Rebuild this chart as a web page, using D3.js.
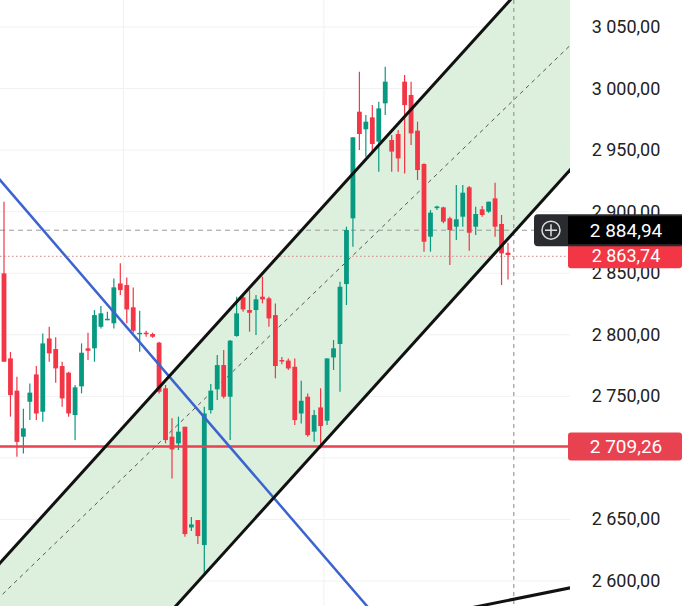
<!DOCTYPE html>
<html><head><meta charset="utf-8">
<script src="https://cdn.jsdelivr.net/npm/d3@7"></script>
<style>body{margin:0;background:#fff}svg{display:block}</style></head>
<body><svg id="c" width="682" height="606"></svg>
<script>
// OHLC candles
const opens  = [2849.9,2780.8,2754.6,2717.2,2745.6,2767.8,2737.5,2797,2788.4,2774.6,2769.2,2734.8,2758.1,2789,2789,2806.5,2811.9,2809.3,2841.7,2840.4,2822.3,2801.1,2801.7,2800.6,2793.6,2756.5,2717.2,2711.8,2725.3,2643.5,2649.5,2629.2,2738.8,2755.7,2775.4,2749.7,2799,2830.4,2820.1,2820.1,2830.9,2829.6,2816,2779.5,2779,2774,2736.1,2749.7,2721.3,2741,2730.2,2781.6,2792.5,2841.2,2894.6,2981.2,2966.9,2976.6,2956.9,2988,2958.2,2963.1,3005.6,2994.8,2965.8,2938.7,2879.7,2902.9,2903.5,2894.6,2887.8,2895.9,2919.8,2887.8,2901.9,2900,2910.8,2890,2866.7];
const highs  = [2908,2786,2766,2740,2760.5,2774.6,2801,2806.5,2797.9,2778.1,2770,2759.2,2793,2801.7,2820.1,2823.3,2818.7,2845.8,2858,2846.6,2838.5,2819.5,2803.3,2801.7,2794.4,2759.2,2732.1,2733.5,2725.3,2652,2649.5,2741.5,2760,2783.5,2787.6,2795.7,2830.9,2832.3,2836.3,2832.3,2847.2,2830.9,2825.5,2782,2780.8,2780.8,2762.7,2752.4,2738.8,2756.5,2780.8,2795.7,2843.1,2887.8,2960.4,3013.7,2978.5,2986.6,2989.3,3017.8,2962.3,2966.3,3011,3005.6,2973.1,2939.3,2901.3,2904.8,2904,2895.9,2921.6,2921.6,2920.8,2904,2904.6,2908.1,2923.5,2897.3,2874.8];
const lows   = [2778,2733.5,2701,2703.6,2730.7,2730.7,2729.4,2778.1,2761,2741.6,2733.5,2714.5,2752.4,2779.5,2778.1,2805.2,2811.9,2805.2,2832.3,2809.3,2801.7,2786.2,2798.4,2797.5,2752.4,2711.8,2683.3,2706.4,2636,2640.7,2630,2604,2736.1,2747,2748.3,2714.5,2798.4,2818.7,2802.5,2799.8,2825.5,2806.5,2764.6,2776,2771.4,2726.7,2728,2717.2,2713.1,2707.7,2726.7,2771.4,2753.8,2824.2,2871.6,2950.1,2944.7,2947.4,2932.5,2978.5,2932.5,2932.5,2931.1,2954.2,2925.7,2867.5,2867.5,2901.3,2890.5,2856.7,2877,2887.8,2868.3,2881,2895.9,2899.2,2879.7,2840.4,2845];
const closes = [2778.1,2751,2713,2724,2753,2736.1,2793,2784.9,2772.7,2748.3,2736.1,2757.3,2785.4,2787,2816,2817.4,2813,2838.5,2836.3,2820.6,2803.3,2801.6,2800.6,2798.4,2753.7,2714.5,2706.9,2721.3,2638.1,2646,2636.5,2736.1,2754.6,2775.4,2749.7,2795.2,2817.4,2820.6,2817.9,2828.8,2828.8,2813.3,2774.6,2779,2772.7,2730.7,2746.4,2718.5,2734.8,2725.9,2780.8,2789,2839,2885.1,2960.4,2963.1,2973.1,2955,2983.9,3005.6,2948.8,2943.3,2986.6,2963.6,2933.8,2875.6,2899.2,2904.2,2891.9,2885.1,2893.8,2915.4,2882.9,2898.1,2897.3,2908.1,2887.8,2866.1,2864.8];
const yTicks = [2600,2650,2750,2800,2850,2900,2950,3000,3050];
const tickLabels = ["2 600,00","2 650,00","2 750,00","2 800,00","2 850,00","2 900,00","2 950,00","3 000,00","3 050,00"];
// drawn lines as [index, price] pairs
const upperLine = [[-0.62,2614.6],[87.6,3125.5]];
const lowerLine = [[26.6,2579.7],[87.6,2933.8]];
const midLine   = [[-5,2565],[87.6,3035]];
const blueLine  = [[-0.62,2925.7],[55.9,2581.3]];
const lowLine2  = [[73.7,2579.7],[87.6,2594.4]];
const support = 2709.26, lastPrice = 2884.94, closePrice = 2863.74;

const svg = d3.select("#c");
const x = d3.scaleLinear().domain([0,78]).range([4,508]);
const y = d3.scaleLinear().domain([2600,3050]).range([581,27]);
const plotW = 570;
const GREEN="#089981", RED="#f23645";
svg.append("clipPath").attr("id","pc").append("rect").attr("width",plotW).attr("height",606);
const g = svg.append("g").attr("clip-path","url(#pc)");
// grid
g.selectAll(".hg").data(yTicks.concat([2700])).join("line").attr("x1",0).attr("x2",plotW)
 .attr("y1",d=>y(d)).attr("y2",d=>y(d)).attr("stroke","#f0f1f3");
[18.5,49.5].forEach(i=>g.append("line").attr("x1",x(i)).attr("x2",x(i)).attr("y1",0).attr("y2",606).attr("stroke","#f0f1f3"));
// channel fill
const ext = (l,i)=>{const [a,b]=l;const s=(b[1]-a[1])/(b[0]-a[0]);return [i,a[1]+s*(i-a[0])];};
const poly=[ext(upperLine,-10),ext(upperLine,95),ext(lowerLine,95),ext(lowerLine,-10)];
g.append("path").attr("d",d3.line().x(d=>x(d[0])).y(d=>y(d[1]))(poly)+"Z").attr("fill","#d8eed9").attr("opacity",0.9);
const L = d3.line().x(d=>x(d[0])).y(d=>y(d[1]));
const full = l=>[ext(l,-10),ext(l,95)];
g.append("path").attr("d",L(full(midLine))).attr("stroke","#555").attr("stroke-width",1).attr("stroke-dasharray","4,4").attr("fill","none");
// price lines
g.append("line").attr("x1",0).attr("x2",plotW).attr("y1",y(lastPrice)).attr("y2",y(lastPrice)).attr("stroke","#999").attr("stroke-dasharray","5,4");
g.append("line").attr("x1",0).attr("x2",plotW).attr("y1",y(closePrice)).attr("y2",y(closePrice)).attr("stroke","#c88").attr("stroke-dasharray","1.5,2.5");
g.append("line").attr("x1",x(78.9)).attr("x2",x(78.9)).attr("y1",0).attr("y2",606).attr("stroke","#888").attr("stroke-dasharray","4,4");
// candles
const data = opens.map((o,i)=>({i,o,h:highs[i],l:lows[i],c:closes[i]}));
const cg = g.selectAll(".cd").data(data).join("g");
cg.append("line").attr("x1",d=>x(d.i)).attr("x2",d=>x(d.i)).attr("y1",d=>y(d.h)).attr("y2",d=>y(d.l))
 .attr("stroke",d=>d.c>=d.o?GREEN:RED).attr("stroke-width",1.2);
cg.append("rect").attr("x",d=>x(d.i)-2.4).attr("width",4.8)
 .attr("y",d=>y(Math.max(d.o,d.c))).attr("height",d=>Math.max(1.5,Math.abs(y(d.o)-y(d.c))))
 .attr("fill",d=>d.c>=d.o?GREEN:RED);
// trend lines
g.append("line").attr("x1",0).attr("x2",plotW).attr("y1",y(support)).attr("y2",y(support)).attr("stroke","#e8414f").attr("stroke-width",2.5);
g.append("path").attr("d",L(full(blueLine))).attr("stroke","#3c64d0").attr("stroke-width",2.5).attr("fill","none");
[upperLine,lowerLine].forEach(l=>g.append("path").attr("d",L(full(l))).attr("stroke","#111").attr("stroke-width",3).attr("fill","none"));
g.append("path").attr("d",L(full(lowLine2))).attr("stroke","#111").attr("stroke-width",3).attr("fill","none");
// axis labels
svg.selectAll(".tl").data(yTicks).join("text").attr("x",626).attr("y",d=>y(d)+6).attr("text-anchor","middle")
 .attr("font-family","Roboto, sans-serif").attr("font-size",18).attr("fill","#222").text((d,i)=>tickLabels[i]);
const fmt = v=>d3.format(",.2f")(v).replace(/,/g," ").replace(".",",");
svg.append("rect").attr("x",568).attr("y",y(closePrice)-12).attr("width",114).attr("height",24).attr("rx",3).attr("fill",RED);
svg.append("text").attr("x",626).attr("y",y(closePrice)+6).attr("text-anchor","middle").attr("font-family","Roboto, sans-serif").attr("font-size",18).attr("fill","#fff").text(fmt(closePrice));
svg.append("rect").attr("x",534).attr("y",y(lastPrice)-16).attr("width",160).attr("height",32).attr("rx",4).attr("fill","#2a2b2f");
svg.append("rect").attr("x",568).attr("y",y(lastPrice)-14).attr("width",114).attr("height",28).attr("fill","#000");
svg.append("circle").attr("cx",551).attr("cy",y(lastPrice)).attr("r",9).attr("fill","none").attr("stroke","#ddd").attr("stroke-width",1.5);
svg.append("path").attr("d",`M545,${y(lastPrice)}h12M551,${y(lastPrice)-6}v12`).attr("stroke","#ddd").attr("stroke-width",1.5);
svg.append("text").attr("x",626).attr("y",y(lastPrice)+7).attr("text-anchor","middle").attr("font-family","Roboto, sans-serif").attr("font-size",19).attr("fill","#fff").text(fmt(lastPrice));
svg.append("rect").attr("x",568).attr("y",y(support)-14).attr("width",114).attr("height",28).attr("rx",3).attr("fill","#e8414f");
svg.append("text").attr("x",626).attr("y",y(support)+7).attr("text-anchor","middle").attr("font-family","Roboto, sans-serif").attr("font-size",19).attr("fill","#fff").text(fmt(support));
</script></body></html>
